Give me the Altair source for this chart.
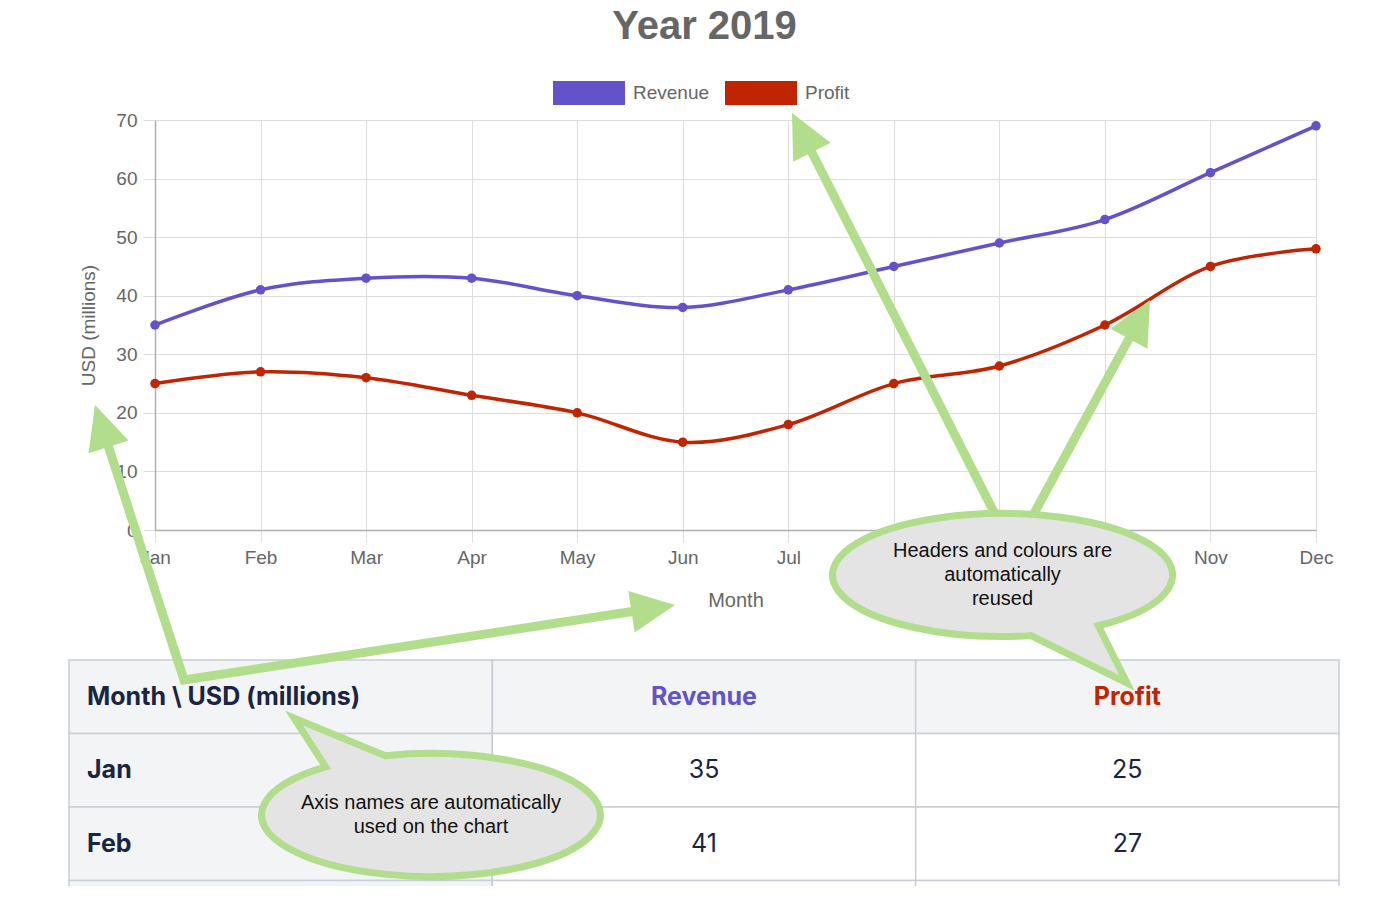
import math
import altair as alt
import pandas as pd

# ---------------- data ----------------
months = ["Jan", "Feb", "Mar", "Apr", "May", "Jun", "Jul", "Aug", "Sep", "Oct", "Nov", "Dec"]
revenue = [35, 41, 43, 43, 40, 38, 41, 45, 49, 53, 61, 69]
profit = [25, 27, 26, 23, 20, 15, 18, 25, 28, 35, 45, 48]
series_names = ["Revenue", "Profit"]
y_ticks = [0, 10, 20, 30, 40, 50, 60, 70]

chart_title = "Year 2019"
x_title = "Month"
y_title = "USD (millions)"
table_header = ["Month \\ USD (millions)", "Revenue", "Profit"]
table_months = months[:3]

callout_axis_text = "Axis names are automatically\nused on the chart"
callout_headers_text = "Headers and colours are\nautomatically\nreused"

# ---------------- styles / geometry (page pixels) ----------------
COLORS = ["#6352c9", "#c12400"]
GREY_TXT = "#666666"
GRID = "#dedede"
NAVY = "#1b2542"
GREEN = "#b2dd8c"
BUBBLE_FILL = "#e4e4e4"
FONT = "Liberation Sans"
TFONT = "Inter"

PLOT_LEFT, PLOT_TOP, PLOT_W, PLOT_H = 155, 120, 1161, 410
TABLE_LEFT, TABLE_RIGHT, TABLE_TOP, ROW_H = 69, 1339, 660, 73.5
BUBBLE_LINE_H = 24
LEGEND_Y, LEGEND_X0, LEGEND_STEP = 93, 589, 172   # centre of first legend box
LEGEND_BOX_W, LEGEND_BOX_H = 72, 24

# annotation scales: page pixels -> plot pixels
ax_scale = alt.Scale(domain=[PLOT_LEFT, PLOT_LEFT + PLOT_W], range=[0, PLOT_W], zero=False, nice=False)
ay_scale = alt.Scale(domain=[PLOT_TOP, PLOT_TOP + PLOT_H], range=[0, PLOT_H], zero=False, nice=False)

# ---------------- line chart ----------------
long = pd.DataFrame({
    "month": months * 2,
    "series": ["Revenue"] * len(months) + ["Profit"] * len(months),
    "value": revenue + profit,
})

xenc = alt.X(
    "month:N", sort=months, scale=alt.Scale(type="point", padding=0),
    axis=alt.Axis(
        title=x_title, labelAngle=0, grid=True, gridColor=GRID, gridWidth=1,
        tickColor=GRID, tickSize=12, labelPadding=6, labelFont=FONT, labelFontSize=19,
        labelColor=GREY_TXT, domainColor="#b0b0b0", domainWidth=1.5,
        titleFont=FONT, titleFontSize=20, titleFontWeight="normal", titleColor=GREY_TXT,
        titleX=PLOT_W / 2, titleY=70, titleBaseline="middle", titleAlign="center",
    ),
)
yenc = alt.Y(
    "value:Q", scale=alt.Scale(domain=[0, 70], nice=False),
    axis=alt.Axis(
        title=y_title, values=y_ticks, grid=True, gridColor=GRID, gridWidth=1,
        tickColor=GRID, tickSize=12, labelPadding=6, labelFont=FONT, labelFontSize=19,
        labelColor=GREY_TXT, domainColor="#b0b0b0", domainWidth=1.5,
        titleFont=FONT, titleFontSize=19, titleFontWeight="normal", titleColor=GREY_TXT,
        titleX=-67, titleY=PLOT_H / 2, titleBaseline="middle", titleAlign="center",
    ),
)
color_scale = alt.Scale(domain=series_names, range=COLORS)

lines = alt.Chart(long).mark_line(interpolate="cardinal", strokeWidth=3.5).encode(
    x=xenc, y=yenc,
    color=alt.Color("series:N", scale=color_scale, legend=None),
)
points = alt.Chart(long).mark_point(filled=True, size=90, opacity=1).encode(
    x=xenc, y=yenc,
    color=alt.Color("series:N", scale=color_scale, legend=None),
)
line_chart = alt.layer(lines, points)

# ---------------- legend (Chart.js style boxes above the plot) ----------------
legend_df = pd.DataFrame({
    "series": series_names,
    "px": [LEGEND_X0 + i * LEGEND_STEP for i in range(len(series_names))],
    "py": [LEGEND_Y] * len(series_names),
})
hw, hh = LEGEND_BOX_W / 2, LEGEND_BOX_H / 2
legend_boxes = alt.Chart(legend_df).mark_point(
    filled=True, size=4, opacity=1, strokeWidth=0,
    shape=f"M{-hw},{-hh}H{hw}V{hh}H{-hw}Z",
).encode(
    x=alt.X("px:Q", scale=ax_scale, axis=None),
    y=alt.Y("py:Q", scale=ay_scale, axis=None),
    color=alt.Color("series:N", scale=color_scale, legend=None),
)
legend_labels = alt.Chart(legend_df).mark_text(
    font=FONT, fontSize=19, color=GREY_TXT, align="left", baseline="middle", dx=hw + 8,
).encode(
    x=alt.X("px:Q", scale=ax_scale, axis=None),
    y=alt.Y("py:Q", scale=ay_scale, axis=None),
    text="series:N",
)

# ---------------- table ----------------
cols = ["label", "Revenue", "Profit"]
rows = ["header"] + table_months
cells = []
for r_i, r in enumerate(rows):
    for c_i, c in enumerate(cols):
        if r == "header":
            txt = table_header[c_i]
            tcol = [NAVY, COLORS[0], COLORS[1]][c_i]
            kind = "bold_left" if c_i == 0 else "bold_center"
        else:
            m = months.index(r)
            txt = [r, str(revenue[m]), str(profit[m])][c_i]
            tcol = NAVY
            kind = "bold_left" if c_i == 0 else "normal_center"
        bg = "#f3f4f6" if (r == "header" or c_i == 0) else "#ffffff"
        # the last row is only partly visible in the window: its texts fall below it
        visible = r_i < len(rows) - 1
        cells.append({"row": r, "col": c, "text": txt, "tcolor": tcol, "bg": bg,
                      "kind": kind, "visible": visible})
cells_df = pd.DataFrame(cells)

tx_scale = alt.Scale(type="band", domain=cols, range=[TABLE_LEFT - PLOT_LEFT, TABLE_RIGHT - PLOT_LEFT],
                     paddingInner=0, paddingOuter=0)
ty_scale = alt.Scale(type="band", domain=rows,
                     range=[TABLE_TOP - PLOT_TOP, TABLE_TOP - PLOT_TOP + ROW_H * len(rows)],
                     paddingInner=0, paddingOuter=0)

table_rects = alt.Chart(cells_df).mark_rect(stroke="#c9cdd5", strokeWidth=1.5).encode(
    x=alt.X("col:N", scale=tx_scale, axis=None),
    y=alt.Y("row:N", scale=ty_scale, axis=None),
    fill=alt.Fill("bg:N", scale=None),
)


def table_text(kind, align, weight, band_x, dx):
    return alt.Chart(cells_df).transform_filter(
        (alt.datum.kind == kind) & alt.datum.visible
    ).mark_text(
        font=TFONT, fontSize=25, fontWeight=weight, align=align, baseline="middle", dx=dx,
    ).encode(
        x=alt.X("col:N", scale=tx_scale, axis=None, bandPosition=band_x),
        y=alt.Y("row:N", scale=ty_scale, axis=None, bandPosition=0.5),
        text="text:N",
        fill=alt.Fill("tcolor:N", scale=None),
    )


table = alt.layer(
    table_rects,
    table_text("bold_left", "left", "bold", 0, 18),
    table_text("bold_center", "center", "bold", 0.5, 0),
    table_text("normal_center", "center", "normal", 0.5, 0),
)

# ---------------- annotations ----------------
HEAD_LEN, HEAD_HALF = 44, 21
arrows = [
    {"name": "to_y_title", "path": [(184, 680)], "tip": (95, 405)},
    {"name": "to_x_title", "path": [(184, 680)], "tip": (675, 605)},
    {"name": "to_legend", "path": [(1003, 530)], "tip": (792, 113)},
    {"name": "to_line", "path": [(1025, 530)], "tip": (1150, 300)},
]

arrow_pts, heads = [], []
for a in arrows:
    fx, fy = a["path"][-1]
    tx, ty = a["tip"]
    L = math.hypot(tx - fx, ty - fy)
    ux, uy = (tx - fx) / L, (ty - fy) / L
    nx, ny = -uy, ux
    end = (tx - ux * (HEAD_LEN - 4), ty - uy * (HEAD_LEN - 4))
    pts = a["path"] + [end]
    for k, (px, py) in enumerate(pts):
        arrow_pts.append({"arrow": a["name"], "k": k, "px": px, "py": py})
    bx, by = -ux * HEAD_LEN, -uy * HEAD_LEN
    c1 = (bx + nx * HEAD_HALF, by + ny * HEAD_HALF)
    c2 = (bx - nx * HEAD_HALF, by - ny * HEAD_HALF)
    heads.append({"px": tx, "py": ty,
                  "shape": f"M0,0L{c1[0]:.2f},{c1[1]:.2f}L{c2[0]:.2f},{c2[1]:.2f}Z"})

# the two arrows that start at the table header corner form one polyline
pts_df = pd.DataFrame(arrow_pts)
ya = pts_df[pts_df.arrow == "to_y_title"].sort_values("k")
xa = pts_df[pts_df.arrow == "to_x_title"].sort_values("k")
joined = []
seq = list(ya.itertuples())[::-1] + list(xa.itertuples())[1:]
for k, r in enumerate(seq):
    joined.append({"arrow": "axis_pair", "k": k, "px": r.px, "py": r.py})
others = pts_df[~pts_df.arrow.isin(["to_y_title", "to_x_title"])]
arrow_df = pd.concat([pd.DataFrame(joined), others], ignore_index=True)


def bubble_path(rx, ry, tip, pa, pb):
    def ang(p):
        return math.atan2(p[1] / ry, p[0] / rx)
    ta, tb = ang(pa), ang(pb)
    A = (rx * math.cos(ta), ry * math.sin(ta))
    B = (rx * math.cos(tb), ry * math.sin(tb))
    d = math.degrees(ta - tb)
    d = (d + 180) % 360 - 180
    sweep = 0 if d > 0 else 1
    return (f"M{A[0]:.2f},{A[1]:.2f}L{tip[0]:.2f},{tip[1]:.2f}L{B[0]:.2f},{B[1]:.2f}"
            f"A{rx},{ry} 0 1 {sweep} {A[0]:.2f},{A[1]:.2f}Z")


bubbles = [
    {"cx": 431, "cy": 815, "rx": 169.5, "ry": 61.5, "tip": (294, 718),
     "a": (326, 767), "b": (387, 758), "text": callout_axis_text},
    {"cx": 1002.5, "cy": 575, "rx": 170, "ry": 61.5, "tip": (1127, 683),
     "a": (1033, 640), "b": (1097, 625), "text": callout_headers_text},
]
bub_rows = []
for b in bubbles:
    rel = lambda p: (p[0] - b["cx"], p[1] - b["cy"])
    n_lines = b["text"].count("\n") + 1
    bub_rows.append({"px": b["cx"], "py": b["cy"], "text": b["text"],
                     "ty": b["cy"] - (n_lines - 1) * BUBBLE_LINE_H / 2,
                     "shape": bubble_path(b["rx"], b["ry"], rel(b["tip"]), rel(b["a"]), rel(b["b"]))})
bub_df = pd.DataFrame(bub_rows)

axx = alt.X("px:Q", scale=ax_scale, axis=None)
axy = alt.Y("py:Q", scale=ay_scale, axis=None)

arrow_lines = alt.Chart(arrow_df).mark_line(
    strokeWidth=9, color=GREEN, strokeJoin="miter", strokeCap="butt"
).encode(x=axx, y=axy, detail="arrow:N", order="k:Q")
arrow_heads = alt.Chart(pd.DataFrame(heads)).mark_point(
    filled=True, size=4, color=GREEN, opacity=1, strokeWidth=0
).encode(x=axx, y=axy, shape=alt.Shape("shape:N", scale=None))
bubble_shapes = alt.Chart(bub_df).mark_point(
    filled=True, size=4, fill=BUBBLE_FILL, stroke=GREEN, strokeWidth=7, opacity=1,
    strokeJoin="miter"
).encode(x=axx, y=axy, shape=alt.Shape("shape:N", scale=None))
bubble_text = alt.Chart(bub_df).mark_text(
    font=FONT, fontSize=20, color="#111111", align="center", baseline="middle",
    lineBreak="\n", lineHeight=BUBBLE_LINE_H
).encode(x=axx, y=alt.Y("ty:Q", scale=ay_scale, axis=None), text="text:N")

annotations = alt.layer(legend_boxes, legend_labels, arrow_lines, arrow_heads,
                        bubble_shapes, bubble_text)

chart = alt.layer(line_chart, table, annotations).resolve_scale(
    x="independent", y="independent"
).properties(
    width=PLOT_W, height=PLOT_H,
    title=alt.TitleParams(chart_title, font=FONT, fontSize=40, fontWeight="bold", color=GREY_TXT,
                          anchor="middle", frame="group", dx=-31, offset=2, baseline="alphabetic"),
    autosize=alt.AutoSizeParams(type="none"),
    padding={"left": PLOT_LEFT - 8, "top": PLOT_TOP - 8, "right": 60, "bottom": 356},
).configure_view(stroke=None)

chart.save("out.html", embed_options={"renderer": "svg", "actions": False})
